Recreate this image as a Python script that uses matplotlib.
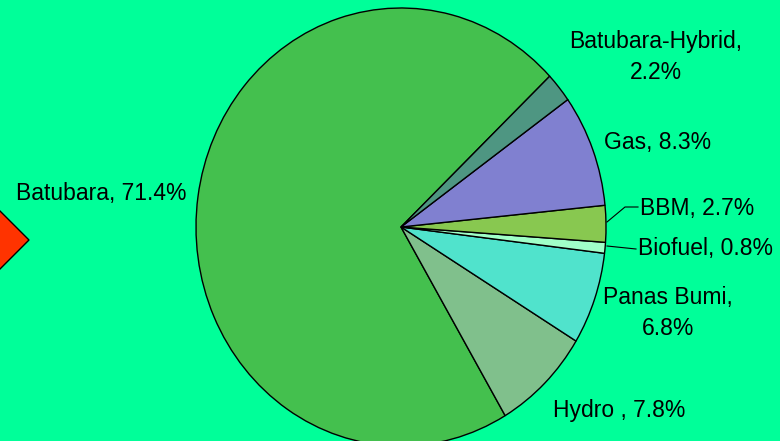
import matplotlib.pyplot as plt
from matplotlib.patches import Polygon

plt.rcParams["font.family"] = ["Liberation Sans", "DejaVu Sans"]

# Energy mix shares (%), drawn counter-clockwise from ~43 deg
sources = ["Batubara", "Hydro ", "Panas Bumi", "Biofuel", "BBM", "Gas", "Batubara-Hybrid"]
shares = [71.4, 7.8, 6.8, 0.8, 2.7, 8.3, 2.2]
colors = ["#44C04E", "#80C08C", "#50E3CC", "#A0FFC8", "#88C850", "#8080D0", "#4E9682"]

BG = "#00FF99"
W, H = 780, 441
CX, CY, RX, RY = 401, 227, 205, 219  # pie centre / radii in pixels


def to_data(px, py):
    return (px - CX) / RX, (CY - py) / RY


fig = plt.figure(figsize=(W / 100, H / 100), dpi=100, facecolor=BG)
ax = fig.add_axes([0, 0, 1, 1])
ax.set_facecolor(BG)

ax.pie(shares, colors=colors, startangle=43.5, counterclock=True,
       wedgeprops=dict(edgecolor="black", linewidth=1.0))
ax.set_aspect("auto")
ax.set_xlim(-CX / RX, (W - CX) / RX)
ax.set_ylim(-(H - CY) / RY, CY / RY)
ax.axis("off")

# labels: (text, pixel x, pixel y, ha)
labels = [
    (f"{sources[0]}, {shares[0]}%", 101, 193, "center"),
    (f"{sources[1]}, {shares[1]}%", 619, 410, "center"),
    (f"{sources[2]},\n{shares[2]}%", 668, 313, "center"),
    (f"{sources[3]}, {shares[3]}%", 638, 249, "left"),
    (f"{sources[4]}, {shares[4]}%", 640, 208, "left"),
    (f"{sources[5]}, {shares[5]}%", 658, 143, "center"),
    (f"{sources[6]},\n{shares[6]}%", 656, 57, "center"),
]
for txt, px, py, ha in labels:
    x, y = to_data(px, py)
    ax.text(x, y, txt, ha=ha, va="center", fontsize=16.5, linespacing=1.4)

# leader lines for the two thin slices
for pts in ([(607, 222), (625, 207), (638, 207)],
            [(607, 246), (636, 249)]):
    xs, ys = zip(*[to_data(px, py) for px, py in pts])
    ax.plot(xs, ys, color="black", linewidth=0.8)

# red diamond cut by the left edge
diamond = [(-12, 199), (29, 240), (-12, 281), (-53, 240)]
ax.add_patch(Polygon([to_data(px, py) for px, py in diamond], closed=True,
                     facecolor="#FF3300", edgecolor="black", linewidth=1.0,
                     clip_on=True))

fig.savefig("out.png", dpi=100, facecolor=BG)
